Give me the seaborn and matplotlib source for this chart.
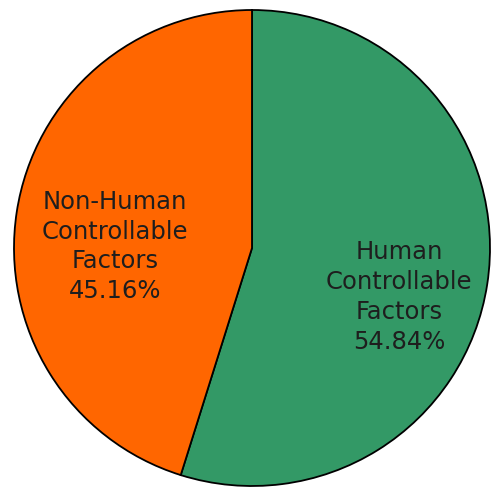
import matplotlib
matplotlib.use('Agg')
import matplotlib.pyplot as plt
import seaborn as sns

sns.set_theme(style='white')
plt.rcParams['font.family'] = ['DejaVu Sans']

# Data
categories = ['Human\nControllable\nFactors', 'Non-Human\nControllable\nFactors']
shares = [54.84, 45.16]
colors = ['#339966', '#FF6600']

# label placement (data units, pie radius = 1)
label_pos = [(0.618, -0.206), (-0.575, 0.006)]

fig = plt.figure(figsize=(4.92, 4.94), dpi=100)
ax = fig.add_axes([0, 0, 1, 1])

wedges, _ = ax.pie(shares, colors=colors, startangle=90, counterclock=False,
                   wedgeprops=dict(edgecolor='black', linewidth=1.3))

for (x, y), cat, val in zip(label_pos, categories, shares):
    ax.text(x, y, f'{cat}\n{val:.2f}%', ha='center', va='center',
            fontsize=17.5, color='#1e1e1e', linespacing=1.3)

ax.set_aspect('auto')
ax.set_xlim(-252 / 238, 240 / 238)
ax.set_ylim(-246 / 238, 248 / 238)
ax.axis('off')

fig.savefig('out.png', dpi=100, facecolor='white')
